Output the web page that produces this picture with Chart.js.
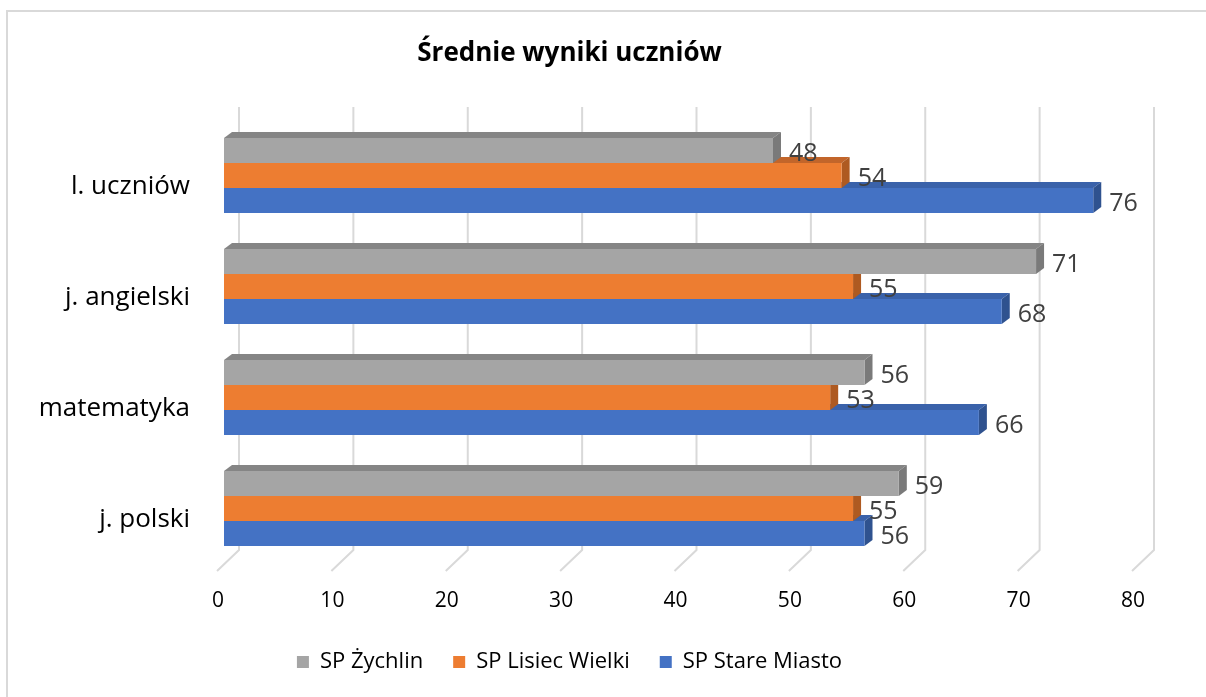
<!DOCTYPE html>
<html>
<head>
<meta charset="utf-8">
<script src="https://cdn.jsdelivr.net/npm/chart.js@4.4.0/dist/chart.umd.min.js"></script>
<style>
    html, body { margin: 0; background: #fff; }
    #wrap { width: 1206px; height: 697px; }
</style>
</head>
<body>
<div id="wrap"><canvas id="chart" width="1206" height="697"></canvas></div>
<script>
const categories = ["l. uczniów", "j. angielski", "matematyka", "j. polski"];
const zychlin = [48, 71, 56, 59];
const lisiec = [54, 55, 53, 55];
const stareMiasto = [76, 68, 66, 56];
const xTicks = [0, 10, 20, 30, 40, 50, 60, 70, 80];

const FONT = "'Open Sans', sans-serif";
const DEPTH_X = 8;
const DEPTH_Y = -6;

const faceColors = [
    { front: "#a5a5a5", top: "#858585", side: "#7a7a7a" },
    { front: "#ed7d31", top: "#c2652a", side: "#ae5a21" },
    { front: "#4472c4", top: "#3a62aa", side: "#2f528f" }
];

function drawPoly(ctx, points, color) {
    ctx.beginPath();
    ctx.moveTo(points[0][0], points[0][1]);
    points.slice(1).forEach(p => ctx.lineTo(p[0], p[1]));
    ctx.closePath();
    ctx.fillStyle = color;
    ctx.fill();
}

const bars3d = {
    id: "bars3d",
    beforeDraw(chart) {
        const ctx = chart.ctx;
        ctx.save();
        ctx.strokeStyle = "#d9d9d9";
        ctx.lineWidth = 2;
        ctx.beginPath();
        ctx.moveTo(1206, 11);
        ctx.lineTo(7, 11);
        ctx.lineTo(7, 697);
        ctx.stroke();
        ctx.restore();
    },
    beforeDatasetsDraw(chart) {
        const { ctx, chartArea, scales } = chart;
        ctx.save();
        ctx.strokeStyle = "#d9d9d9";
        ctx.lineWidth = 2;
        xTicks.forEach(v => {
            const px = scales.x.getPixelForValue(v) + 15;
            ctx.beginPath();
            ctx.moveTo(px, chartArea.top - 13);
            ctx.lineTo(px, chartArea.bottom - 14);
            ctx.lineTo(px - 22, chartArea.bottom + 7);
            ctx.stroke();
        });
        ctx.restore();
    },
    beforeDatasetDraw() {
        return false;
    },
    afterDatasetsDraw(chart) {
        const ctx = chart.ctx;
        const count = chart.data.datasets.length;
        ctx.save();
        for (let i = count - 1; i >= 0; i--) {
            const meta = chart.getDatasetMeta(i);
            const colors = faceColors[i];
            meta.data.forEach(bar => {
                const { x, y, base, height } = bar.getProps(["x", "y", "base", "height"], true);
                const top = y - height / 2;
                const bottom = y + height / 2;
                drawPoly(ctx, [[base, top], [base + DEPTH_X, top + DEPTH_Y], [x + DEPTH_X, top + DEPTH_Y], [x, top]], colors.top);
                drawPoly(ctx, [[x, top], [x + DEPTH_X, top + DEPTH_Y], [x + DEPTH_X, bottom + DEPTH_Y], [x, bottom]], colors.side);
                drawPoly(ctx, [[base, top], [x, top], [x, bottom], [base, bottom]], colors.front);
            });
        }

        ctx.font = `25px ${FONT}`;
        ctx.fillStyle = "#404040";
        ctx.textAlign = "left";
        ctx.textBaseline = "middle";
        chart.data.datasets.forEach((ds, i) => {
            chart.getDatasetMeta(i).data.forEach((bar, j) => {
                const { x, y } = bar.getProps(["x", "y"], true);
                ctx.fillText(String(ds.data[j]), x + DEPTH_X + 8, y + 3);
            });
        });
        ctx.restore();
    }
};

new Chart(document.getElementById("chart"), {
    type: "bar",
    data: {
        labels: categories,
        datasets: [
            { label: "SP Żychlin", data: zychlin, backgroundColor: faceColors[0].front },
            { label: "SP Lisiec Wielki", data: lisiec, backgroundColor: faceColors[1].front },
            { label: "SP Stare Miasto", data: stareMiasto, backgroundColor: faceColors[2].front }
        ]
    },
    options: {
        indexAxis: "y",
        responsive: false,
        animation: false,
        events: [],
        barPercentage: 1,
        categoryPercentage: 0.676,
        layout: {
            padding: { top: 0, left: 0, right: 67, bottom: 14 }
        },
        plugins: {
            title: {
                display: true,
                text: "Średnie wyniki uczniów",
                color: "#000",
                font: { family: FONT, size: 26, weight: "bold" },
                padding: { top: 38, bottom: 50.8 }
            },
            legend: {
                position: "bottom",
                labels: {
                    boxWidth: 12,
                    boxHeight: 12,
                    padding: 30,
                    color: "#000",
                    font: { family: FONT, size: 22 }
                }
            },
            tooltip: { enabled: false }
        },
        scales: {
            x: {
                min: 0,
                max: 80,
                afterFit(scale) {
                    scale.height = 57;
                },
                afterBuildTicks(scale) {
                    scale.ticks = xTicks.map(v => ({ value: v }));
                },
                grid: { display: false, drawTicks: false },
                border: { display: false },
                ticks: {
                    padding: 24,
                    labelOffset: -6,
                    color: "#000",
                    font: { family: FONT, size: 21 }
                }
            },
            y: {
                afterFit(scale) {
                    scale.width = 224;
                },
                grid: { display: false, drawTicks: false },
                border: { display: false },
                ticks: {
                    padding: 34,
                    labelOffset: 11,
                    color: "#000",
                    font: { family: FONT, size: 26 }
                }
            }
        }
    },
    plugins: [bars3d]
});
</script>
</body>
</html>
